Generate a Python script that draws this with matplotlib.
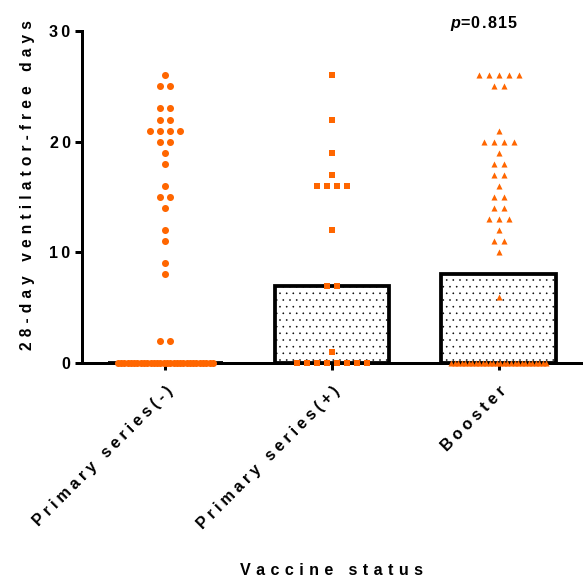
import numpy as np
import matplotlib
matplotlib.use('Agg')
from matplotlib import pyplot as plt

# values (28-day ventilator-free days)
groups = ['Primary series(-)', 'Primary series(+)', 'Booster']
primaryNeg = [26, 25, 25, 23, 23, 22, 22, 21, 21, 21, 21, 20, 20, 19, 18,
              16, 15, 15, 14, 12, 11, 9, 8, 2, 2] + [0] * 30
primaryPos = [26, 22, 19, 17, 16, 16, 16, 16, 12, 7, 7, 1] + [0] * 8
booster = [26, 26, 26, 26, 26, 25, 25, 21, 20, 20, 20, 20, 19, 18, 18, 17, 17,
           16, 15, 15, 14, 14, 13, 13, 13, 12, 11, 11, 10, 6] + [0] * 28
yTicks = [0, 10, 20, 30]
markers = ['o', 's', '^']
sizes = [40, 36, 30]
pText = '0.815'

DPI = 80
ORANGE = '#FF6600'
FS = 14.5


def spaced(s, gap='\u2004'):
  # Prism-like letter spacing
  return gap.join(s)


def swarmOffsets(values, step=0.06, maxSpan=0.57):
  values = np.asarray(values)
  offsets = np.zeros(len(values))
  for v in np.unique(values):
    idx = np.where(values == v)[0]
    k = len(idx)
    if k == 1:
      continue
    gap = min(step, maxSpan / (k - 1))
    offsets[idx] = (np.arange(k) - (k - 1) / 2.0) * gap
  return offsets


plt.rcParams['font.family'] = ['Liberation Sans', 'DejaVu Sans']
plt.rcParams['font.weight'] = 'bold'
plt.rcParams['hatch.linewidth'] = 0.3
plt.rcParams['mathtext.fontset'] = 'custom'
plt.rcParams['mathtext.it'] = 'Liberation Sans:bold:italic'

fig = plt.figure(figsize=(583 / DPI, 580 / DPI), dpi=DPI)
ax = fig.add_axes([82 / 583, 1 - 363 / 580, 500 / 583, 332 / 580])

data = [primaryNeg, primaryPos, booster]
positions = np.arange(1, len(groups) + 1)
medians = [np.median(d) for d in data]

ax.bar(positions, medians, width=0.69, color='white', edgecolor='black',
       linewidth=3.4, hatch='..', zorder=2)

for pos, vals, m, s in zip(positions, data, markers, sizes):
  xs = pos + swarmOffsets(vals)
  ax.scatter(xs, vals, marker=m, s=s, color=ORANGE, linewidths=0,
             zorder=3, clip_on=False)

ax.set_xlim(0.5, 3.5)
ax.set_ylim(0, 30)
ax.set_yticks(yTicks)
ax.set_yticklabels([spaced(str(t), '\u2009') for t in yTicks], fontsize=FS,
                   fontweight='bold')
ax.set_xticks(positions)
ax.set_xticklabels([spaced(g, '\u2005') for g in groups], rotation=45,
                   ha='right', va='top', rotation_mode='anchor', fontsize=FS,
                   fontweight='bold')

for side in ['top', 'right']:
  ax.spines[side].set_visible(False)
for side in ['left', 'bottom']:
  ax.spines[side].set_linewidth(2.7)
ax.tick_params(axis='both', width=2.7, length=6.3, pad=4)
ax.tick_params(axis='x', pad=12)

ax.set_ylabel(spaced('28-day ventilator-free days'), fontsize=14,
              fontweight='bold', va='center')
ax.yaxis.set_label_coords(-0.108, 0.535)
ax.set_xlabel(spaced('Vaccine status'), fontsize=FS, fontweight='bold',
              va='center')
ax.xaxis.set_label_coords(0.5, -0.626)

ax.text(0.804, 1.024, r'$\it{p}$' + spaced('=' + pText, '\u200a'),
        transform=ax.transAxes, ha='center', va='center', fontsize=FS,
        fontweight='bold')

fig.savefig('out.png', dpi=DPI)
